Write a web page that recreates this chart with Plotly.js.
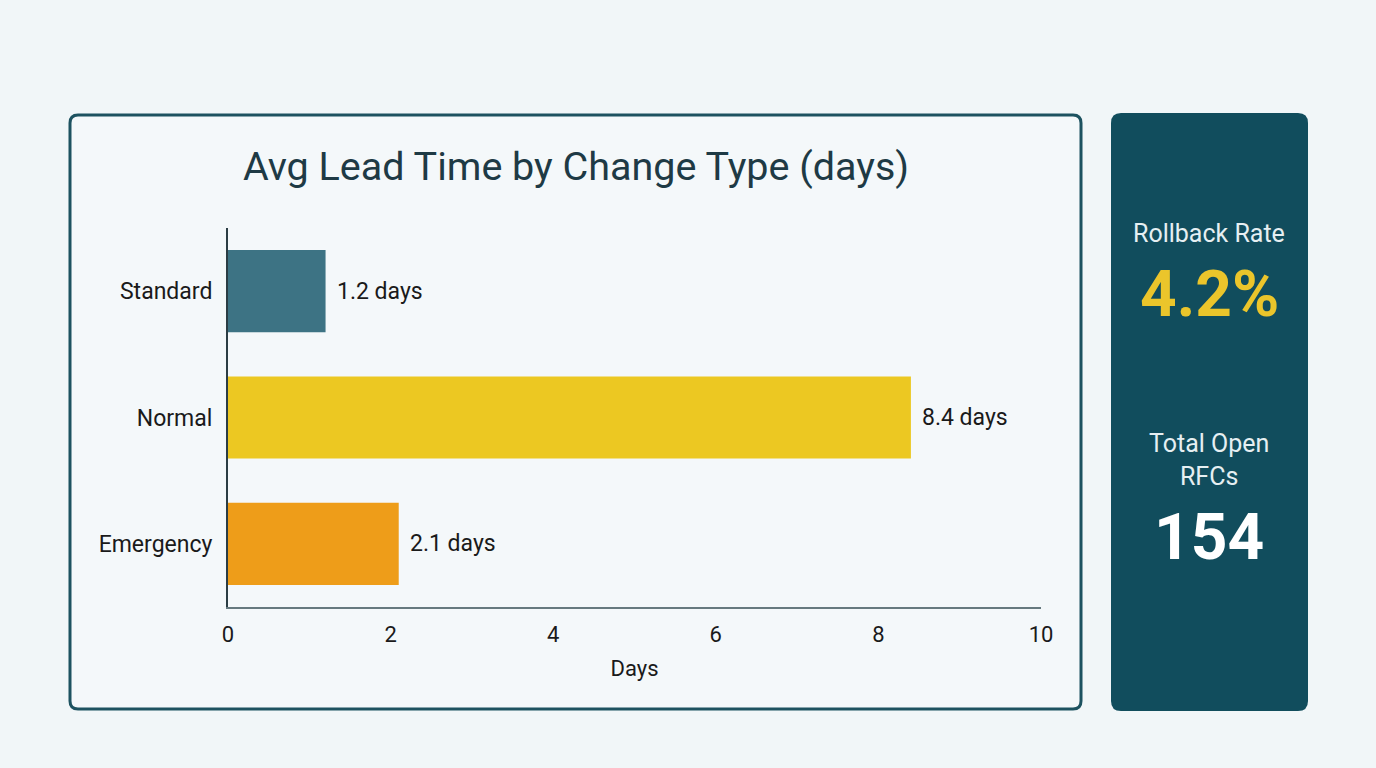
<!DOCTYPE html>
<html>
<head>
<meta charset="utf-8">
<script src="https://cdn.plot.ly/plotly-3.0.1.min.js"></script>
<style>
  html, body { margin: 0; padding: 0; background: #f1f6f8; }
  #chart { width: 1376px; height: 768px; }
</style>
</head>
<body>
<div id="chart"></div>
<script>
// chart data
var changeTypes = ["Standard", "Normal", "Emergency"];
var leadDays = [1.2, 8.4, 2.1];
var barColors = ["#3d7384", "#ecc822", "#ee9d19"];
var xTicks = [0, 2, 4, 6, 8, 10];

// side panel kpis
var kpiLabels = ["Rollback Rate", "Total Open<br>RFCs"];
var kpiValues = ["4.2%", "154"];
var kpiColors = ["#ebc52b", "#ffffff"];

var W = 1376, H = 768;

// px -> paper helpers (margins are 0, so paper == whole picture)
function px(x) { return x / W; }
function py(y) { return 1 - y / H; }

function roundRect(x0, y0, x1, y1, r) {
  var p = "M" + px(x0 + r) + "," + py(y0);
  p += " L" + px(x1 - r) + "," + py(y0);
  p += " Q" + px(x1) + "," + py(y0) + " " + px(x1) + "," + py(y0 + r);
  p += " L" + px(x1) + "," + py(y1 - r);
  p += " Q" + px(x1) + "," + py(y1) + " " + px(x1 - r) + "," + py(y1);
  p += " L" + px(x0 + r) + "," + py(y1);
  p += " Q" + px(x0) + "," + py(y1) + " " + px(x0) + "," + py(y1 - r);
  p += " L" + px(x0) + "," + py(y0 + r);
  p += " Q" + px(x0) + "," + py(y0) + " " + px(x0 + r) + "," + py(y0) + " Z";
  return p;
}

var trace = {
  type: "bar",
  orientation: "h",
  x: leadDays,
  y: changeTypes,
  width: 0.65,
  marker: { color: barColors },
  hoverinfo: "x+y",
  showlegend: false
};

var annotations = [];

// value labels right of each bar
for (var i = 0; i < changeTypes.length; i++) {
  annotations.push({
    x: leadDays[i], y: changeTypes[i], xref: "x", yref: "y",
    text: leadDays[i].toFixed(1) + " days",
    showarrow: false, xanchor: "left", yanchor: "middle", xshift: 9,
    font: { family: "Roboto, sans-serif", size: 23, color: "#1a1a1a" }
  });
}

// kpi panel text
var labelY = [233, 460];
var valueY = [295, 537];
for (var k = 0; k < kpiLabels.length; k++) {
  annotations.push({
    x: px(1209), y: py(labelY[k]), xref: "paper", yref: "paper",
    xanchor: "center", yanchor: "middle",
    text: kpiLabels[k], showarrow: false, align: "center",
    font: { family: "Roboto, sans-serif", size: 25, color: "#e6eff2" }
  });
  annotations.push({
    x: px(1209), y: py(valueY[k]), xref: "paper", yref: "paper",
    xanchor: "center", yanchor: "middle",
    text: "<b>" + kpiValues[k] + "</b>", showarrow: false,
    font: { family: "Roboto, sans-serif", size: 64, color: kpiColors[k] }
  });
}

var layout = {
  width: W, height: H,
  margin: { l: 0, r: 0, t: 0, b: 0 },
  paper_bgcolor: "#f1f6f8",
  plot_bgcolor: "rgba(0,0,0,0)",
  font: { family: "Roboto, sans-serif", color: "#1a1a1a" },
  title: {
    text: "Avg Lead Time by Change Type (days)",
    x: px(576), xanchor: "center",
    y: py(166), yanchor: "middle",
    font: { family: "Roboto, sans-serif", size: 39.5, color: "#1e3a45" }
  },
  xaxis: {
    domain: [px(228), px(1041)],
    range: [0, 10],
    tickvals: xTicks,
    showgrid: false, zeroline: false,
    showline: true, linecolor: "#66797f", linewidth: 2,
    ticks: "outside", ticklen: 7, tickcolor: "rgba(0,0,0,0)",
    tickfont: { size: 22, color: "#1a1a1a" },
    title: { text: "Days", standoff: 14, font: { size: 22, color: "#1a1a1a" } },
    fixedrange: true
  },
  yaxis: {
    domain: [py(607), py(228)],
    autorange: "reversed",
    showgrid: false, zeroline: false,
    showline: true, linecolor: "#2b3d44", linewidth: 2,
    ticks: "outside", ticklen: 9, tickcolor: "rgba(0,0,0,0)",
    tickfont: { size: 23, color: "#1a1a1a" },
    fixedrange: true
  },
  shapes: [
    {
      type: "path", xref: "paper", yref: "paper", layer: "below",
      path: roundRect(70, 115, 1081, 709, 8),
      fillcolor: "#f4f8fa", line: { color: "#1d5260", width: 3 }
    },
    {
      type: "path", xref: "paper", yref: "paper", layer: "below",
      path: roundRect(1111, 113, 1308, 711, 10),
      fillcolor: "#114d5d", line: { width: 0 }
    }
  ],
  annotations: annotations,
  bargap: 0.35
};

Plotly.newPlot("chart", [trace], layout, { displayModeBar: false, staticPlot: true });
</script>
</body>
</html>
